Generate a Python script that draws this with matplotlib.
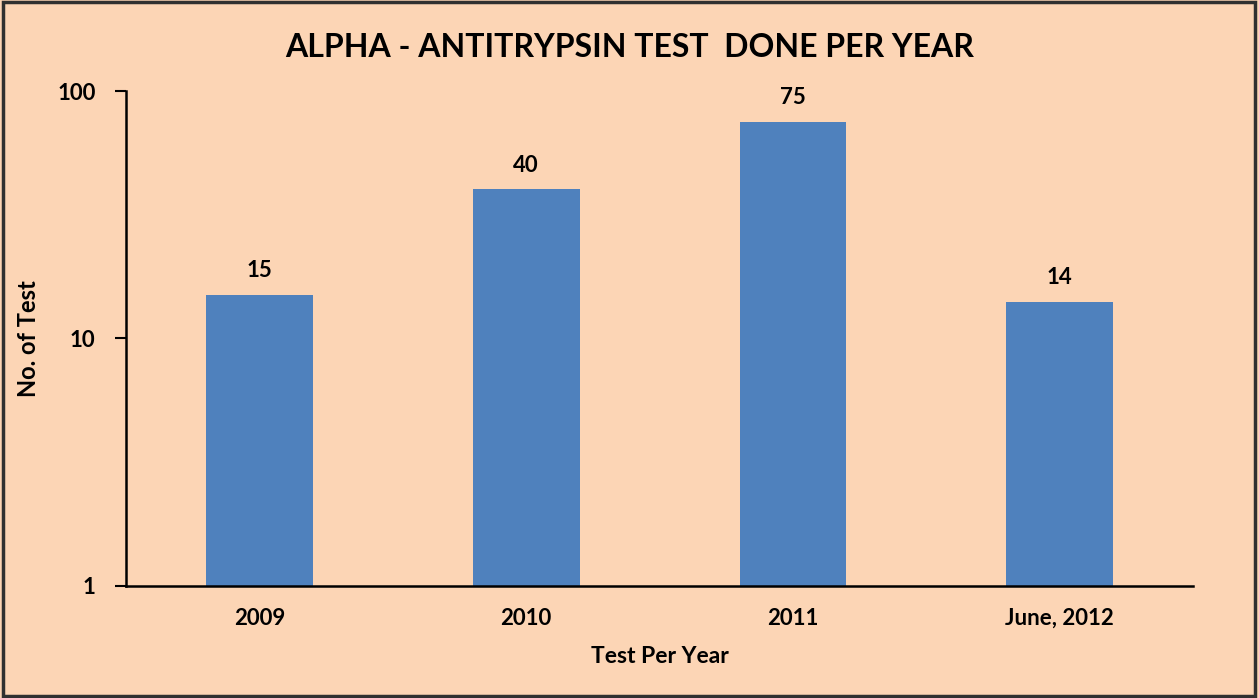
import matplotlib.pyplot as plt
from matplotlib.patches import Rectangle

years = ["2009", "2010", "2011", "June, 2012"]
tests = [15, 40, 75, 14]

plt.rcParams["font.family"] = ["Lato", "DejaVu Sans"]
plt.rcParams["font.weight"] = "bold"

bg = "#FCD5B5"
fig = plt.figure(figsize=(12.59, 6.98), dpi=100, facecolor=bg)
ax = fig.add_axes([0.1001, 0.1605, 0.8475, 0.7091], facecolor=bg)

x = range(len(years))
ax.bar(x, tests, width=0.4, color="#4F81BD")
for i, v in zip(x, tests):
    ax.annotate(str(v), (i, v), xytext=(0, 10), textcoords="offset points",
                ha="center", va="bottom", fontsize=16, fontweight="bold")

ax.set_yscale("log")
ax.set_ylim(1, 100)
ax.set_xlim(-0.5, 3.5)
ax.set_yticks([1, 10, 100])
ax.set_yticklabels(["1", "10", "100"])
ax.minorticks_off()
ax.set_xticks(list(x))
ax.set_xticklabels(years)
ax.tick_params(axis="x", length=0, pad=16, labelsize=16)
ax.tick_params(axis="y", length=8, width=1.5, pad=14, labelsize=16)
for s in ["top", "right"]:
    ax.spines[s].set_visible(False)
for s in ["left", "bottom"]:
    ax.spines[s].set_linewidth(1.8)

ax.set_xlabel("Test Per Year", fontsize=16.5, fontweight="bold", labelpad=12)
ax.set_ylabel("No. of Test", fontsize=17, fontweight="bold", labelpad=12)
fig.text(0.5, 0.932, "ALPHA - ANTITRYPSIN TEST  DONE PER YEAR", ha="center",
         va="center", fontsize=23, fontweight="bold")

fig.patches.append(Rectangle((0.002, 0.003), 0.995, 0.994, transform=fig.transFigure,
                             fill=False, edgecolor="#303030", linewidth=2.5))

fig.savefig("out.png", dpi=100, facecolor=bg)
